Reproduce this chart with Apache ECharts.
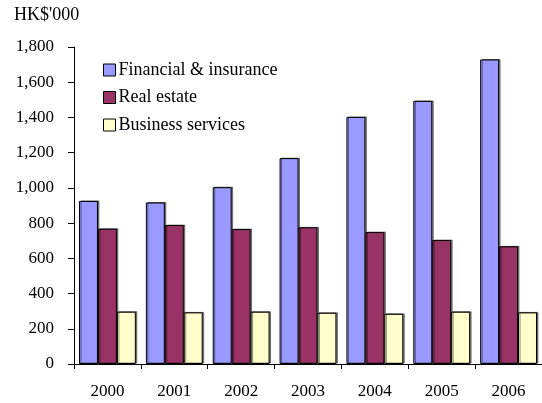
<!DOCTYPE html>
<html>
<head>
<meta charset="utf-8">
<script src="https://cdn.jsdelivr.net/npm/echarts@6/dist/echarts.min.js"></script>
<style>
  html, body { margin: 0; padding: 0; background: #fff; }
  #chart { width: 542px; height: 403px; }
</style>
</head>
<body>
<div id="chart"></div>
<script>
// Years on the category axis
const years = ['2000', '2001', '2002', '2003', '2004', '2005', '2006'];

// Values in HK$'000
const financialInsurance = [926, 917, 1004, 1169, 1403, 1494, 1729];
const realEstate = [768, 789, 766, 776, 749, 704, 668];
const businessServices = [297, 293, 297, 291, 285, 297, 293];

// Value-axis ticks
const yMin = 0, yMax = 1800, yStep = 200;

const FONT = '"Liberation Serif", "Times New Roman", serif';

const barStyle = (color) => ({
  color: color,
  borderColor: '#000',
  borderWidth: 1,
  shadowColor: 'rgba(0,0,0,0.45)',
  shadowOffsetX: 1.5,
  shadowOffsetY: -0.5,
  shadowBlur: 0
});

const chart = echarts.init(document.getElementById('chart'), null, { renderer: 'canvas' });

chart.setOption({
  animation: false,
  backgroundColor: '#fff',
  textStyle: { fontFamily: FONT, color: '#000' },
  graphic: [{
    type: 'text',
    left: 14,
    top: 6,
    style: { text: "HK$'000", font: '18px ' + FONT, fill: '#000' }
  }],
  legend: {
    orient: 'vertical',
    left: 98,
    top: 56,
    itemWidth: 12,
    itemHeight: 12,
    itemGap: 9.5,
    icon: 'rect',
    itemStyle: { borderColor: '#000', borderWidth: 1 },
    textStyle: { fontFamily: FONT, fontSize: 18, color: '#000', padding: [0, 0, 0, -2], lineHeight: 18 },
    data: ['Financial & insurance', 'Real estate', 'Business services']
  },
  grid: { left: 74, right: 0, top: 47, bottom: 39, containLabel: false },
  xAxis: {
    type: 'category',
    data: years,
    axisLine: { lineStyle: { color: '#000', width: 1 } },
    axisTick: { show: true, alignWithLabel: false, length: 5, lineStyle: { color: '#000' } },
    axisLabel: { fontFamily: FONT, fontSize: 17, color: '#000', margin: 19 },
    splitLine: { show: false }
  },
  yAxis: {
    type: 'value',
    min: yMin,
    max: yMax,
    interval: yStep,
    axisLine: { show: true, lineStyle: { color: '#000', width: 1 } },
    axisTick: { show: true, length: 6, lineStyle: { color: '#000' } },
    axisLabel: {
      fontFamily: FONT, fontSize: 17, color: '#000', margin: 20,
      formatter: (v) => v.toLocaleString('en-US')
    },
    splitLine: { show: false }
  },
  series: [
    { name: 'Financial & insurance', type: 'bar', data: financialInsurance,
      barGap: '0%', barCategoryGap: '15%', itemStyle: barStyle('#9999FF') },
    { name: 'Real estate', type: 'bar', data: realEstate,
      barGap: '0%', barCategoryGap: '15%', itemStyle: barStyle('#993366') },
    { name: 'Business services', type: 'bar', data: businessServices,
      barGap: '0%', barCategoryGap: '15%', itemStyle: barStyle('#FFFFCC') }
  ]
});
</script>
</body>
</html>
